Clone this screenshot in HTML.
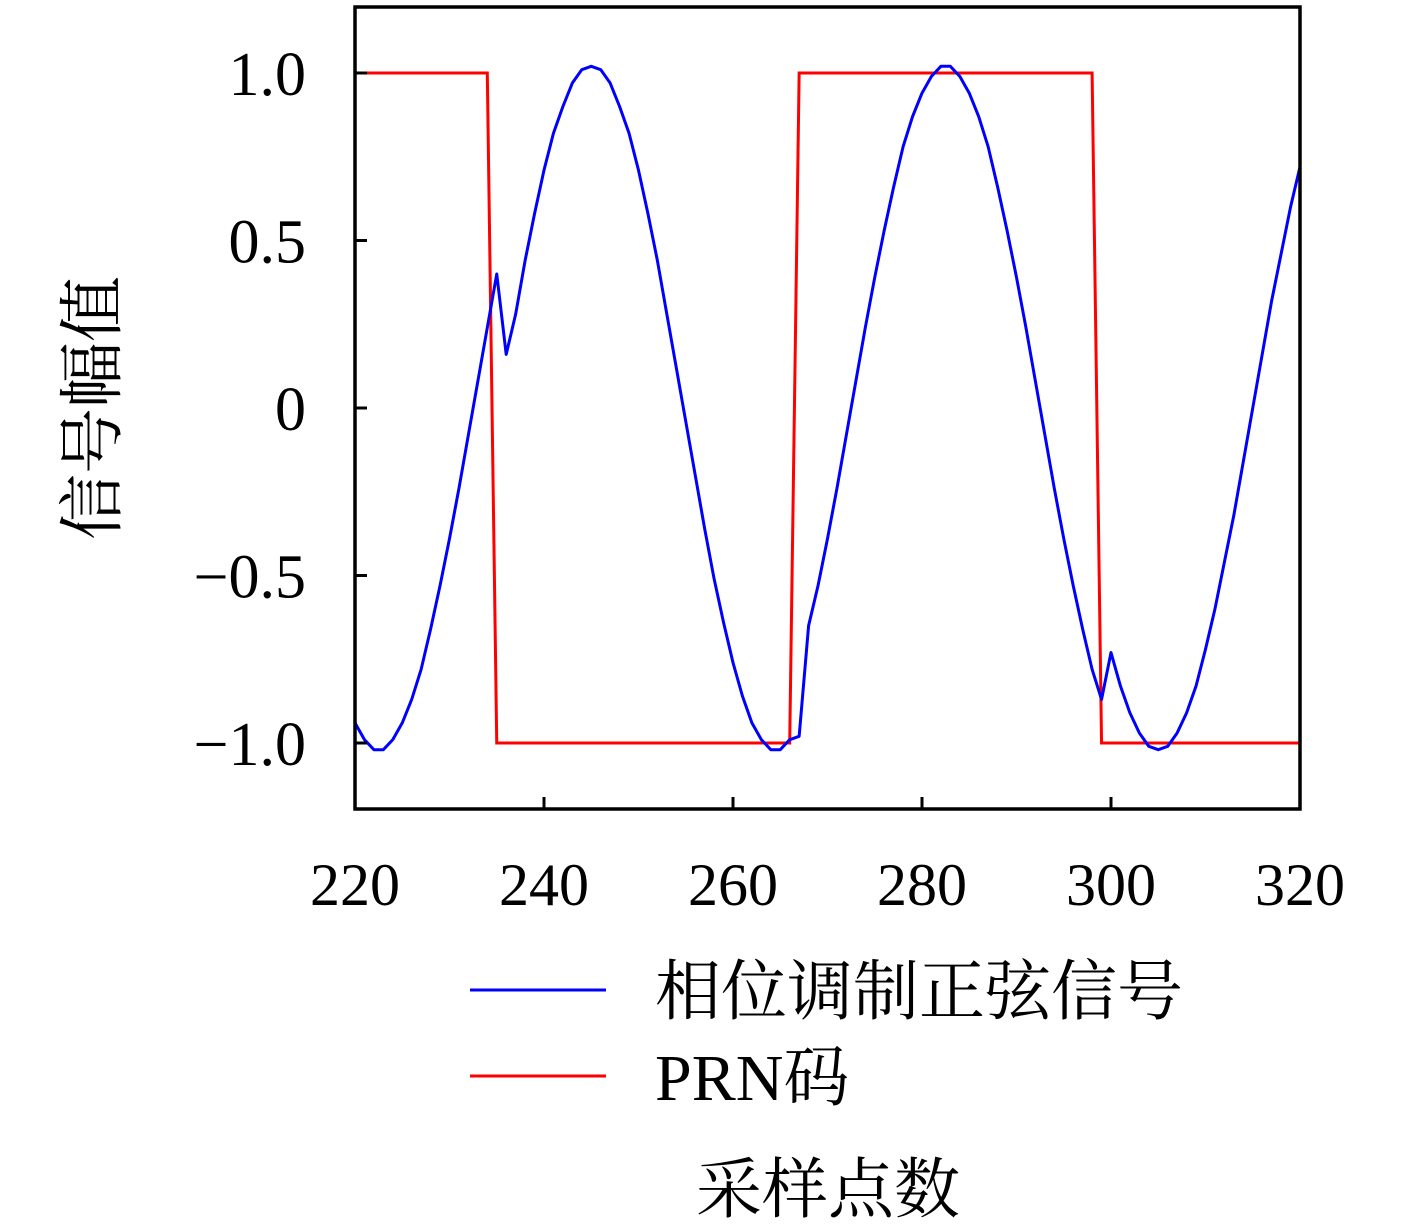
<!DOCTYPE html>
<html><head><meta charset="utf-8"><style>
html,body{margin:0;padding:0;background:#fff}
svg text{font-family:"Liberation Serif","Noto Serif CJK SC",serif;fill:#000}
</style></head><body>
<svg width="1417" height="1225" viewBox="0 0 1417 1225" xmlns="http://www.w3.org/2000/svg">
<g id="plot"></g>
<g id="axes"></g>
<text x="100" y="408" font-size="66" text-anchor="middle" transform="rotate(-90 100 408)" dominant-baseline="middle">信号幅值</text>
<text x="828" y="1212" font-size="66" text-anchor="middle">采样点数</text>
<g>
<line x1="470" y1="990" x2="606" y2="990" stroke="#0000ff" stroke-width="3"/>
<text x="655" y="1014" font-size="66">相位调制正弦信号</text>
<line x1="470" y1="1076" x2="606" y2="1076" stroke="#ff0000" stroke-width="3"/>
<text x="655" y="1100" font-size="66">PRN码</text>
</g>
</svg>
<script>
const xStart = 220;
const sineValues = [-0.94,-0.99,-1.02,-1.02,-0.99,-0.94,-0.87,-0.78,-0.66,-0.53,-0.39,-0.24,-0.08,0.08,0.24,0.40,
0.16,0.28,0.44,0.58,0.71,0.82,0.90,0.97,1.01,1.02,1.01,0.97,0.90,0.82,0.71,0.58,0.44,0.28,0.12,-0.04,-0.20,-0.36,-0.51,-0.64,-0.76,-0.86,-0.94,-0.99,-1.02,-1.02,-0.99,-0.98,
-0.65,-0.53,-0.39,-0.24,-0.08,0.08,0.24,0.39,0.53,0.66,0.78,0.87,0.94,0.99,1.02,1.02,0.99,0.94,0.87,0.78,0.66,0.53,0.39,0.24,0.08,-0.08,-0.24,-0.39,-0.53,-0.66,-0.78,-0.87,
-0.73,-0.83,-0.91,-0.97,-1.01,-1.02,-1.01,-0.97,-0.91,-0.83,-0.72,-0.60,-0.46,-0.32,-0.16,0.00,0.16,0.32,0.46,0.60,0.72];
const prnValues = [1,1,1,1,1,1,1,1,1,1,1,1,1,1,1,
-1,-1,-1,-1,-1,-1,-1,-1,-1,-1,-1,-1,-1,-1,-1,-1,-1,-1,-1,-1,-1,-1,-1,-1,-1,-1,-1,-1,-1,-1,-1,-1,
1,1,1,1,1,1,1,1,1,1,1,1,1,1,1,1,1,1,1,1,1,1,1,1,1,1,1,1,1,1,1,1,
-1,-1,-1,-1,-1,-1,-1,-1,-1,-1,-1,-1,-1,-1,-1,-1,-1,-1,-1,-1,-1,-1];
const xTicks = [220,240,260,280,300,320];
const yTicks = [-1,-0.5,0,0.5,1];
const yTickLabels = ["−1.0","−0.5","0","0.5","1.0"];

const NS="http://www.w3.org/2000/svg";
const L=355,R=1300,T=7,B=809;
const xMin=220,xMax=320;
const sx=v=>L+(v-xMin)/(xMax-xMin)*(R-L);
const sy=v=>408-v*335;
function mk(tag,attrs,parent){const e=document.createElementNS(NS,tag);for(const k in attrs)e.setAttribute(k,attrs[k]);parent.appendChild(e);return e;}
const plot=document.getElementById('plot'), axes=document.getElementById('axes');
function path(vals){return vals.map((v,i)=>(i?'L':'M')+sx(xStart+i).toFixed(2)+','+sy(v).toFixed(2)).join(' ');}
const prn=mk('path',{d:path(prnValues),fill:'none',stroke:'#ff0000','stroke-width':3},plot);


const sine=mk('path',{d:path(sineValues),fill:'none',stroke:'#0000ff','stroke-width':3,'stroke-linejoin':'round'},plot);


const frame=mk('rect',{x:L,y:T,width:R-L,height:B-T,fill:'none',stroke:'#000','stroke-width':3.5},axes);


xTicks.forEach(v=>{
  const t=mk('line',{x1:sx(v),x2:sx(v),y1:B,y2:B-12,stroke:'#000','stroke-width':3},axes);
  
  
  const lb=mk('text',{x:sx(v),y:905,'font-size':60,'text-anchor':'middle'},axes);
  lb.textContent=v;
  
  
});
yTicks.forEach((v,i)=>{
  const t=mk('line',{x1:L,x2:L+12,y1:sy(v),y2:sy(v),stroke:'#000','stroke-width':3},axes);
  
  
  const lb=mk('text',{x:306,y:sy(v)+22,'font-size':62,'text-anchor':'end'},axes);
  lb.textContent=yTickLabels[i];
  
  
});
</script>
</body></html>
